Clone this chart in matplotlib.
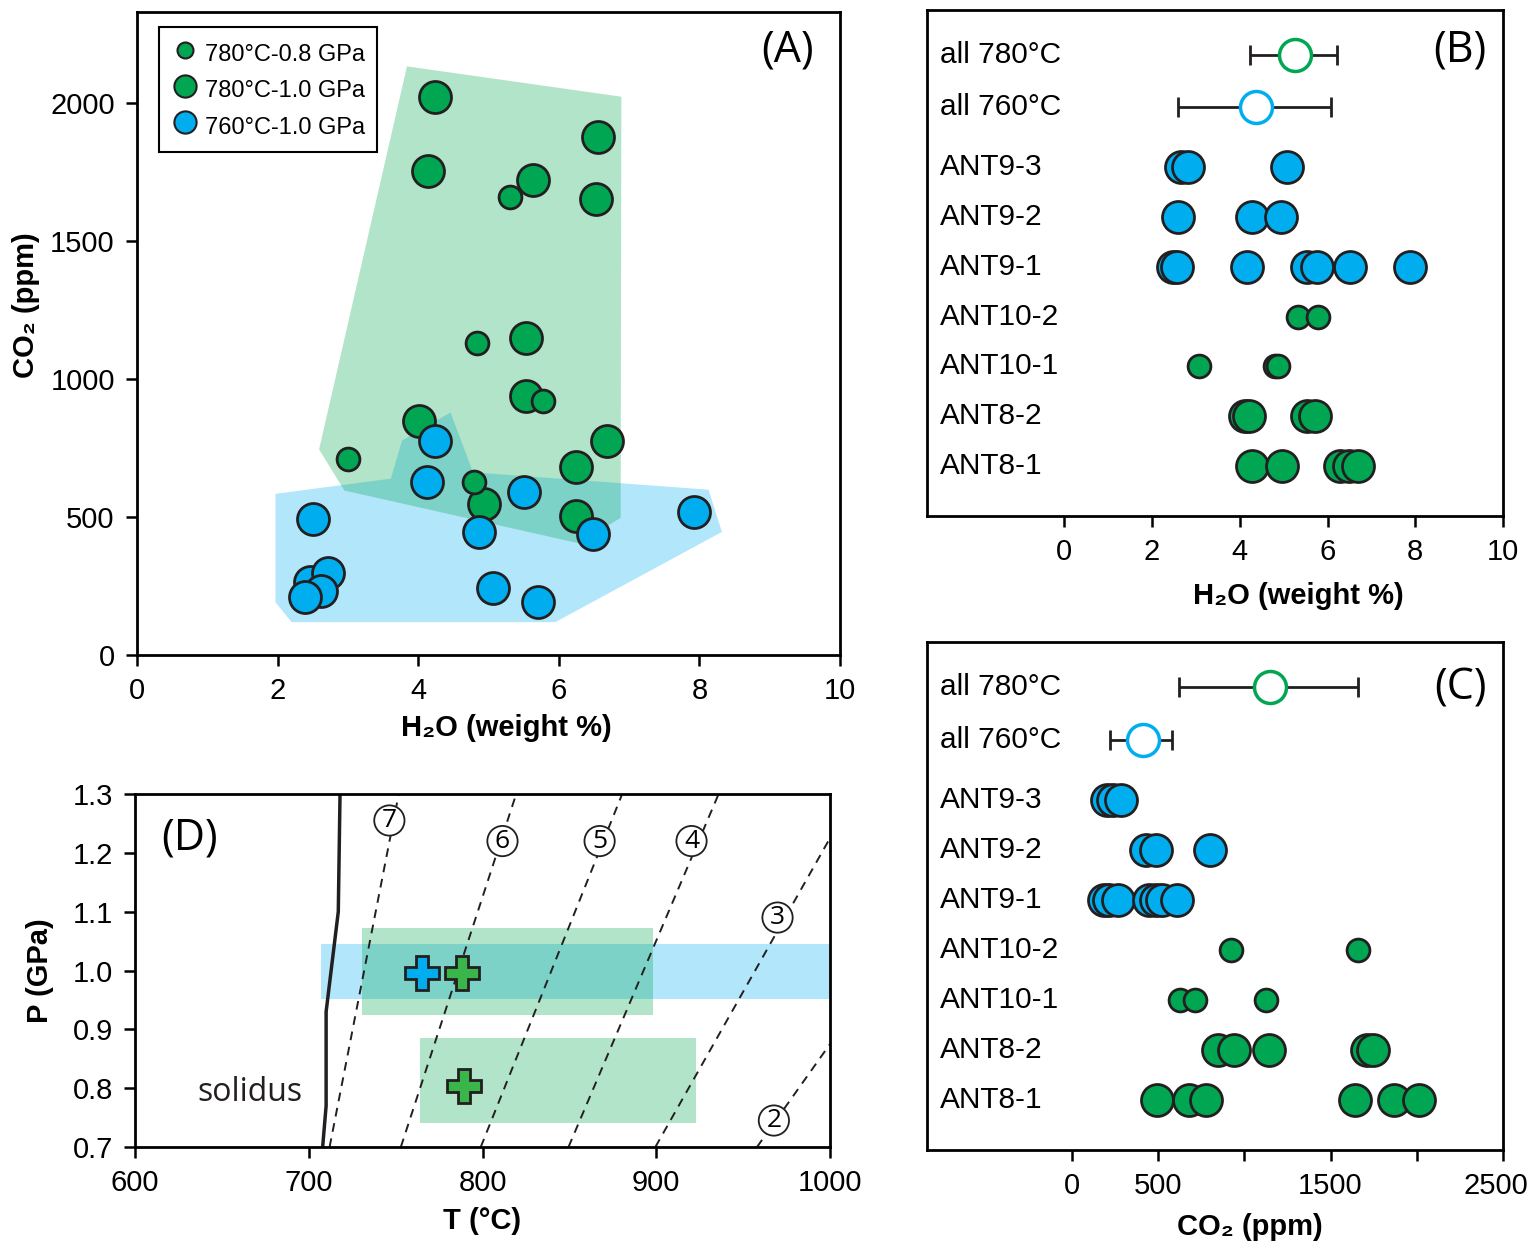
import matplotlib
matplotlib.use("Agg")
import matplotlib.pyplot as plt
import matplotlib.transforms as mtransforms
from matplotlib import font_manager
from matplotlib.lines import Line2D
from matplotlib.patches import Polygon, Rectangle

# ---------------- panel A: CO2 vs H2O ----------------
a_small_h2o = [5.31, 4.84, 5.78, 3.00, 4.80]
a_small_co2 = [1659, 1131, 922, 711, 627]
a_big_h2o = [4.24, 6.56, 4.14, 5.63, 6.53, 5.54, 5.54, 4.01, 6.69, 6.24, 4.93, 6.24]
a_big_co2 = [2023, 1878, 1755, 1723, 1651, 1148, 937, 849, 777, 682, 547, 502]
a_blue_h2o = [4.24, 4.12, 5.50, 7.92, 2.50, 4.87, 6.49, 2.46, 2.72, 2.62, 2.39, 5.06, 5.71]
a_blue_co2 = [777, 627, 589, 517, 492, 446, 437, 265, 298, 232, 211, 242, 191]

green_poly_h2o = [3.84, 6.89, 6.88, 6.28, 2.95, 2.59]
green_poly_co2 = [2133, 2023, 497, 405, 596, 745]
blue_poly_h2o = [1.97, 3.61, 3.77, 4.46, 4.78, 8.13, 8.32, 5.95, 2.20, 1.97]
blue_poly_co2 = [584, 639, 777, 879, 662, 599, 446, 119, 119, 191]

legend_labels = ["780°C-0.8 GPa", "780°C-1.0 GPa", "760°C-1.0 GPa"]

# ---------------- panels B and C: per sample ----------------
samples = ["ANT9-3", "ANT9-2", "ANT9-1", "ANT10-2", "ANT10-1", "ANT8-2", "ANT8-1"]
sample_group = ["760", "760", "760", "0.8", "0.8", "1.0", "1.0"]

b_ant9_3 = [2.65, 2.83, 5.08]
b_ant9_2 = [2.59, 4.28, 4.93]
b_ant9_1 = [2.47, 2.58, 4.17, 5.53, 5.76, 6.51, 7.89]
b_ant10_2 = [5.32, 5.78]
b_ant10_1 = [3.08, 4.80, 4.87]
b_ant8_2 = [4.13, 4.20, 5.54, 5.71]
b_ant8_1 = [4.28, 4.96, 6.28, 6.49, 6.69]

c_ant9_3 = [205, 240, 285]
c_ant9_2 = [430, 485, 800]
c_ant9_1 = [185, 215, 270, 450, 490, 525, 610]
c_ant10_2 = [920, 1657]
c_ant10_1 = [627, 715, 1123]
c_ant8_2 = [846, 943, 1145, 1709, 1747]
c_ant8_1 = [492, 677, 778, 1641, 1867, 2013]

# mean, low, high of all 780 / all 760
b_all780 = [5.27, 4.24, 6.22]
b_all760 = [4.36, 2.60, 6.09]
c_all780 = [1150, 620, 1662]
c_all760 = [415, 219, 582]

c_ticks = [0, 500, 1000, 1500, 2000, 2500]
c_ticklabels = ["0", "500", "", "1500", "", "2500"]

# ---------------- panel D: P-T ----------------
solidus_T = [718, 717, 710, 710, 708]
solidus_P = [1.30, 1.10, 0.93, 0.77, 0.70]
iso_labels = ["7", "6", "5", "4", "3", "2"]
iso_T_bot = [712, 753, 799, 849.5, 899.5, 958]
iso_P_bot = [0.70, 0.70, 0.70, 0.70, 0.70, 0.70]
iso_T_top = [751.8, 819.4, 880.4, 935.9, 1000, 1000]
iso_P_top = [1.30, 1.30, 1.30, 1.30, 1.225, 0.875]
iso_lab_T = [746.4, 811.5, 867.4, 920.3, 969.8, 967.7]
iso_lab_P = [1.255, 1.22, 1.22, 1.22, 1.09, 0.745]

# T range, P range of experiment fields
blue_field = [707, 1005, 0.951, 1.045]
green_field_hi = [730.7, 898.2, 0.925, 1.072]
green_field_lo = [764.0, 922.9, 0.741, 0.886]
cross_T = [765.4, 788.3, 789.6]
cross_P = [0.996, 0.996, 0.803]

# ---------------- style ----------------
GREEN = "#00a651"
BLUE = "#00aeef"
EDGE = "#231f20"
BIG = 530
SMALL = 270

installed = {f.name for f in font_manager.fontManager.ttflist}
SANS = ["Liberation Sans", "DejaVu Sans"]
HUMAN = ["Open Sans", "DejaVu Sans"] if "Open Sans" in installed else SANS
plt.rcParams["font.family"] = SANS
plt.rcParams["axes.linewidth"] = 2

W, H = 1531, 1248
fig = plt.figure(figsize=(W / 100, H / 100), dpi=100)


def box(l, t, r, b):
    return fig.add_axes([l / W, 1 - b / H, (r - l) / W, (b - t) / H])


def ticks(ax, size=21):
    ax.tick_params(direction="out", length=8, width=1.8, labelsize=size, pad=8)


axA = box(137, 12, 840, 655)
axB = box(927, 10, 1503, 516)
axC = box(927, 642, 1503, 1150)
axD = box(135, 794, 830, 1147)

# ---- A ----
axA.add_patch(Polygon(list(zip(blue_poly_h2o, blue_poly_co2)), closed=True,
                      fc=BLUE, alpha=0.3, lw=0))
axA.add_patch(Polygon(list(zip(green_poly_h2o, green_poly_co2)), closed=True,
                      fc=GREEN, alpha=0.3, lw=0))
axA.scatter(a_big_h2o, a_big_co2, s=BIG, c=GREEN, edgecolors=EDGE, linewidths=2, zorder=3)
axA.scatter(a_small_h2o, a_small_co2, s=SMALL, c=GREEN, edgecolors=EDGE, linewidths=2, zorder=4)
axA.scatter(a_blue_h2o, a_blue_co2, s=BIG, c=BLUE, edgecolors=EDGE, linewidths=2, zorder=5)
axA.set_xlim(0, 10)
axA.set_ylim(0, 2330)
axA.set_xticks(range(0, 11, 2))
axA.set_yticks(range(0, 2001, 500))
ticks(axA)
axA.set_xlabel("H₂O (weight %)", fontsize=21, fontweight="bold")
axA.xaxis.set_label_coords(0.525, -0.092)
axA.set_ylabel("CO₂ (ppm)", fontsize=21, fontweight="bold")
axA.yaxis.set_label_coords(-0.138, 0.544)
axA.text(0.925, 0.941, "(A)", transform=axA.transAxes, fontsize=31,
         family=HUMAN, ha="center", va="center")
handles = [
    Line2D([], [], ls="", marker="o", ms=11.5, mfc=GREEN, mec=EDGE, mew=1.5),
    Line2D([], [], ls="", marker="o", ms=16, mfc=GREEN, mec=EDGE, mew=1.5),
    Line2D([], [], ls="", marker="o", ms=16, mfc=BLUE, mec=EDGE, mew=1.5),
]
leg = axA.legend(handles, legend_labels, loc="upper left", bbox_to_anchor=(0.031, 0.977),
                 borderaxespad=0, fontsize=17, fancybox=False, framealpha=1,
                 edgecolor="black", handletextpad=0.25, labelspacing=0.32,
                 handleheight=1.5, borderpad=0.5, handlelength=1.2)
leg.get_frame().set_linewidth(1.5)

# ---- B and C ----
row_y = [7, 6, 5, 4, 3, 2, 1]
y780, y760 = 9.25, 8.2
b_rows = [b_ant9_3, b_ant9_2, b_ant9_1, b_ant10_2, b_ant10_1, b_ant8_2, b_ant8_1]
c_rows = [c_ant9_3, c_ant9_2, c_ant9_1, c_ant10_2, c_ant10_1, c_ant8_2, c_ant8_1]


def strip(ax, rows, all780, all760, lo, hi):
    for y, vals, grp in zip(row_y, rows, sample_group):
        col = BLUE if grp == "760" else GREEN
        size = SMALL if grp == "0.8" else BIG
        ax.scatter(vals, [y] * len(vals), s=size, c=col, edgecolors=EDGE,
                   linewidths=2, zorder=3)
    for y, st, col in [(y780, all780, GREEN), (y760, all760, BLUE)]:
        ax.errorbar([st[0]], [y], xerr=[[st[0] - st[1]], [st[2] - st[0]]], fmt="none",
                    ecolor=EDGE, elinewidth=2, capsize=7, capthick=2, zorder=2)
        ax.scatter([st[0]], [y], s=BIG, facecolors="white", edgecolors=col,
                   linewidths=2.5, zorder=3)
    trans = mtransforms.blended_transform_factory(ax.transAxes, ax.transData)
    names = ["all 780°C", "all 760°C"] + samples
    for name, y in zip(names, [y780, y760] + row_y):
        ax.text(0.023, y, name, transform=trans, fontsize=21.5, ha="left", va="center")
    ax.set_xlim(lo, hi)
    ax.set_ylim(0, 10.15)
    ax.set_yticks([])
    ticks(ax)


axB.set_xticks(range(0, 11, 2))
strip(axB, b_rows, b_all780, b_all760, -3.13, 10.0)
axB.set_xlabel("H₂O (weight %)", fontsize=21, fontweight="bold")
axB.xaxis.set_label_coords(0.644, -0.130)
axB.text(0.925, 0.921, "(B)", transform=axB.transAxes, fontsize=31,
         family=HUMAN, ha="center", va="center")

# last label "2500" would run off the figure edge: draw it nudged left
axC.set_xticks(c_ticks)
axC.set_xticklabels(c_ticklabels[:-1] + [""])
strip(axC, c_rows, c_all780, c_all760, -840, 2500)
axC.annotate(c_ticklabels[-1], xy=(c_ticks[-1], 0), xycoords=("data", "axes fraction"),
             xytext=(-5, -16), textcoords="offset points", ha="center", va="top",
             fontsize=21)
axC.set_xlabel("CO₂ (ppm)", fontsize=21, fontweight="bold")
axC.xaxis.set_label_coords(0.561, -0.124)
axC.text(0.927, 0.909, "(C)", transform=axC.transAxes, fontsize=31,
         family=HUMAN, ha="center", va="center")

# ---- D ----
for fld, col in [(blue_field, BLUE), (green_field_hi, GREEN), (green_field_lo, GREEN)]:
    axD.add_patch(Rectangle((fld[0], fld[2]), fld[1] - fld[0], fld[3] - fld[2],
                            fc=col, alpha=0.3, lw=0, zorder=1))
axD.plot(solidus_T, solidus_P, color=EDGE, lw=2.5, zorder=2)
for i in range(len(iso_labels)):
    axD.plot([iso_T_bot[i], iso_T_top[i]], [iso_P_bot[i], iso_P_top[i]], color=EDGE,
             lw=1.4, ls=(0, (4.5, 3.5)), zorder=2)
    axD.text(iso_lab_T[i], iso_lab_P[i], iso_labels[i], fontsize=19, family=HUMAN,
             ha="center", va="center", zorder=4,
             bbox=dict(boxstyle="circle,pad=0.1", fc="white", ec=EDGE, lw=1.3))
axD.plot(cross_T[:1], cross_P[:1], ls="", marker="P", ms=24, mfc=BLUE, mec=EDGE, mew=2, zorder=5)
axD.plot(cross_T[1:], cross_P[1:], ls="", marker="P", ms=24, mfc="#39b54a", mec=EDGE, mew=2, zorder=5)
axD.set_xlim(600, 1000)
axD.set_ylim(0.7, 1.3)
axD.set_xticks(range(600, 1001, 100))
axD.set_yticks([0.7, 0.8, 0.9, 1.0, 1.1, 1.2, 1.3])
axD.set_yticklabels(["0.7", "0.8", "0.9", "1.0", "1.1", "1.2", "1.3"])
ticks(axD)
axD.set_xlabel("T (°C)", fontsize=21, fontweight="bold")
axD.xaxis.set_label_coords(0.50, -0.17)
axD.set_ylabel("P (GPa)", fontsize=21, fontweight="bold")
axD.yaxis.set_label_coords(-0.1165, 0.50)
axD.text(0.078, 0.875, "(D)", transform=axD.transAxes, fontsize=31,
         family=HUMAN, ha="center", va="center")
axD.text(0.165, 0.155, "solidus", transform=axD.transAxes, fontsize=23,
         family=HUMAN, ha="center", va="center", color=EDGE)

fig.savefig("out.png", dpi=100)
